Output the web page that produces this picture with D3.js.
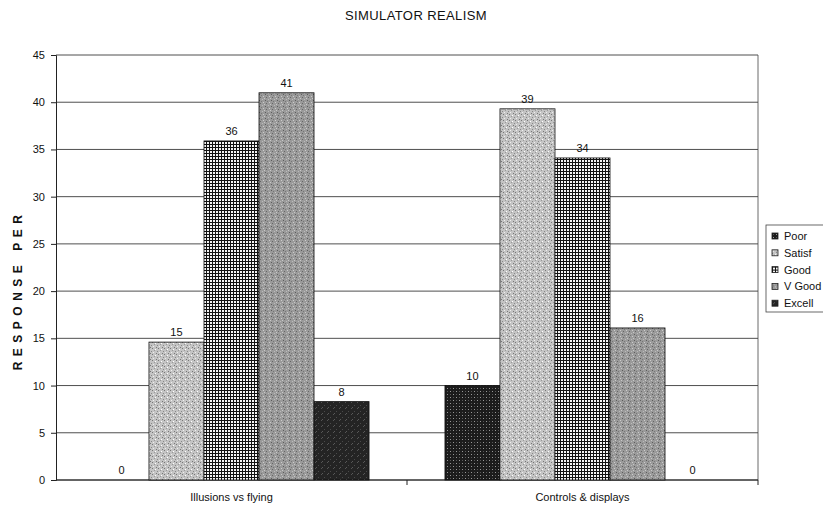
<!DOCTYPE html>
<html>
<head>
<meta charset="utf-8">
<script src="https://cdn.jsdelivr.net/npm/d3@7"></script>
<style>
  body { margin: 0; background: #fff; }
  text { font-family: "Liberation Sans", Arial, sans-serif; fill: #111; }
</style>
</head>
<body>
<div id="chart"></div>
<script>
// data
var categories = ["Illusions vs flying", "Controls & displays"];
var series = ["Poor", "Satisf", "Good", "V Good", "Excell"];
var illusions = [0, 14.6, 35.9, 41, 8.3];
var controls = [10, 39.3, 34.1, 16.1, 0];
var yTicks = [0, 5, 10, 15, 20, 25, 30, 35, 40, 45];

var values = [illusions, controls];
var width = 823, height = 506;
var plotLeft = 56, plotRight = 758, plotTop = 55, plotBottom = 480;

var svg = d3.select("#chart").append("svg")
    .attr("width", width)
    .attr("height", height);

// fill textures, rough imitation of the printed hatching
var defs = svg.append("defs");
function speckle(id, base, dots) {
    var p = defs.append("pattern")
        .attr("id", id)
        .attr("patternUnits", "userSpaceOnUse")
        .attr("width", 6).attr("height", 6);
    p.append("rect").attr("width", 6).attr("height", 6).attr("fill", base);
    dots.forEach(function(d) {
        p.append("rect").attr("x", d[0]).attr("y", d[1])
            .attr("width", 1).attr("height", 1).attr("fill", d[2]);
    });
}
speckle("pPoor", "#1c1c1c", [[1, 1, "#999"], [4, 4, "#999"], [4, 1, "#555"], [1, 4, "#555"]]);
speckle("pSatisf", "#c4c4c4", [[0, 0, "#777"], [3, 1, "#fff"], [5, 3, "#888"], [1, 4, "#eee"], [2, 2, "#999"], [4, 5, "#777"]]);
speckle("pVGood", "#9a9a9a", [[0, 1, "#666"], [3, 0, "#ccc"], [5, 4, "#5c5c5c"], [2, 3, "#bbb"], [1, 5, "#777"], [4, 2, "#c8c8c8"]]);
speckle("pExcell", "#242424", [[1, 0, "#555"], [4, 3, "#4a4a4a"], [2, 5, "#5a5a5a"]]);

var grid = defs.append("pattern")
    .attr("id", "pGood")
    .attr("patternUnits", "userSpaceOnUse")
    .attr("width", 3).attr("height", 3);
grid.append("rect").attr("width", 3).attr("height", 3).attr("fill", "#f4f4f4");
grid.append("rect").attr("width", 3).attr("height", 1).attr("fill", "#111");
grid.append("rect").attr("width", 1).attr("height", 3).attr("fill", "#111");

var fills = ["url(#pPoor)", "url(#pSatisf)", "url(#pGood)", "url(#pVGood)", "url(#pExcell)"];

var y = d3.scaleLinear().domain([0, 45]).range([plotBottom, plotTop]);
var x0 = d3.scaleBand().domain(categories).range([plotLeft, plotRight]);
var x1 = d3.scaleBand().domain(series).range([0, x0.bandwidth()]).paddingOuter(0.69);

// gridlines
svg.append("g").selectAll("line")
    .data(yTicks)
    .enter().append("line")
    .attr("x1", plotLeft).attr("x2", plotRight)
    .attr("y1", function(d) { return y(d); })
    .attr("y2", function(d) { return y(d); })
    .attr("stroke", "#222")
    .attr("stroke-width", 0.8);

// right edge of the plot frame
svg.append("line")
    .attr("x1", plotRight).attr("x2", plotRight)
    .attr("y1", plotTop).attr("y2", plotBottom)
    .attr("stroke", "#444")
    .attr("stroke-width", 0.8);

// y axis
var yAxis = svg.append("g")
    .attr("transform", "translate(" + plotLeft + ",0)")
    .call(d3.axisLeft(y).tickValues(yTicks).tickSize(5).tickPadding(6));
yAxis.select(".domain").attr("stroke", "#222");
yAxis.selectAll("line").attr("stroke", "#222");
yAxis.selectAll("text").style("font-size", "11px").attr("font-family", "Liberation Sans, Arial, sans-serif");

// x axis
var xAxis = svg.append("g")
    .attr("transform", "translate(0," + plotBottom + ")");
xAxis.append("line")
    .attr("x1", plotLeft).attr("x2", plotRight)
    .attr("stroke", "#222");
xAxis.selectAll(".sep")
    .data(categories)
    .enter().append("line")
    .attr("class", "sep")
    .attr("x1", function(d) { return x0(d) + x0.bandwidth(); })
    .attr("x2", function(d) { return x0(d) + x0.bandwidth(); })
    .attr("y2", 5)
    .attr("stroke", "#222");
xAxis.selectAll(".cat")
    .data(categories)
    .enter().append("text")
    .attr("class", "cat")
    .attr("x", function(d) { return x0(d) + x0.bandwidth() / 2; })
    .attr("y", 21)
    .attr("text-anchor", "middle")
    .style("font-size", "11px")
    .text(function(d) { return d; });

// bars
var groups = svg.append("g").selectAll("g")
    .data(categories)
    .enter().append("g")
    .attr("transform", function(d) { return "translate(" + x0(d) + ",0)"; });

groups.each(function(cat, ci) {
    var g = d3.select(this);
    var rows = series.map(function(s, si) { return { s: s, i: si, v: values[ci][si] }; });
    g.selectAll("rect")
        .data(rows.filter(function(d) { return d.v > 0; }))
        .enter().append("rect")
        .attr("x", function(d) { return x1(d.s); })
        .attr("y", function(d) { return y(d.v); })
        .attr("width", x1.bandwidth())
        .attr("height", function(d) { return plotBottom - y(d.v); })
        .attr("fill", function(d) { return fills[d.i]; })
        .attr("stroke", "#111")
        .attr("stroke-width", 0.8);
    g.selectAll("text")
        .data(rows)
        .enter().append("text")
        .attr("x", function(d) { return x1(d.s) + x1.bandwidth() / 2; })
        .attr("y", function(d) { return y(d.v) - 6; })
        .attr("text-anchor", "middle")
        .style("font-size", "11px")
        .text(function(d) { return Math.round(d.v); });
});

// title
svg.append("text")
    .attr("x", 416)
    .attr("y", 20)
    .attr("text-anchor", "middle")
    .style("font-size", "13px")
    .style("letter-spacing", "0.4px")
    .text("SIMULATOR REALISM");

// y title, spaced out like the original
svg.append("text")
    .attr("transform", "translate(22,290) rotate(-90)")
    .attr("text-anchor", "middle")
    .style("font-size", "12px")
    .style("font-weight", "bold")
    .style("letter-spacing", "5.5px")
    .text("RESPONSE PER");

// legend, its box runs off the right edge like the scan
var legend = svg.append("g").attr("transform", "translate(766,225)");
legend.append("rect")
    .attr("width", 70).attr("height", 87)
    .attr("fill", "#fff")
    .attr("stroke", "#444")
    .attr("stroke-width", 0.8);
var items = legend.selectAll(".item")
    .data(series)
    .enter().append("g")
    .attr("class", "item")
    .attr("transform", function(d, i) { return "translate(6," + (11 + i * 16.8) + ")"; });
items.append("rect")
    .attr("y", -3).attr("width", 6).attr("height", 6)
    .attr("fill", function(d, i) { return fills[i]; })
    .attr("stroke", "#222")
    .attr("stroke-width", 0.8);
items.append("text")
    .attr("x", 12).attr("y", 4)
    .style("font-size", "11px")
    .text(function(d) { return d; });
</script>
</body>
</html>
